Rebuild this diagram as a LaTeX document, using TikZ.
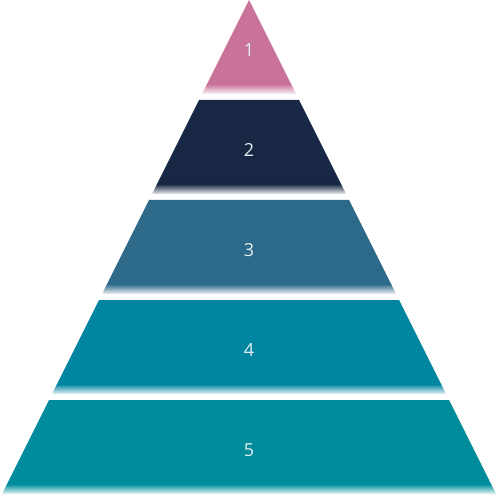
\documentclass[tikz,border=0pt]{standalone}
\usepackage{fontspec}
\setmainfont{Open Sans}
\usetikzlibrary{positioning}
\definecolor{lvlone}{HTML}{C9729A}
\definecolor{lvltwo}{HTML}{182844}
\definecolor{lvlthree}{HTML}{2D6A8A}
\definecolor{lvlfour}{HTML}{0085A1}
\definecolor{lvlfive}{HTML}{008C9A}
\definecolor{labeltext}{HTML}{E2EEF2}
\begin{document}
\begin{tikzpicture}[x=1pt, y=-1pt, every node/.style={font=\fontsize{18}{21}\selectfont, text=labeltext}]
  \useasboundingbox (0,0) rectangle (500,502);
  % bands of the pyramid, each fading out at its lower edge
  \foreach \i/\c in {1/lvlone, 2/lvltwo, 3/lvlthree, 4/lvlfour, 5/lvlfive} {
    \pgfmathsetmacro{\yt}{(\i-1)*100}
    \pgfmathsetmacro{\yf}{\yt+84}
    \pgfmathsetmacro{\yb}{\yt+94}
    \fill[\c] ({249-0.5*\yt},\yt) -- ({249+0.5*\yt},\yt) -- ({249+0.5*(\yf+0.5)},\yf+0.5) -- ({249-0.5*(\yf+0.5)},\yf+0.5) -- cycle;
    \shade[top color=\c, bottom color=\c!8] ({249-0.5*\yf},\yf) -- ({249+0.5*\yf},\yf) -- ({249+0.5*\yb},\yb) -- ({249-0.5*\yb},\yb) -- cycle;
    \node (n\i) at (249,{\yt+50}) {\i};
  }
\end{tikzpicture}
\end{document}
